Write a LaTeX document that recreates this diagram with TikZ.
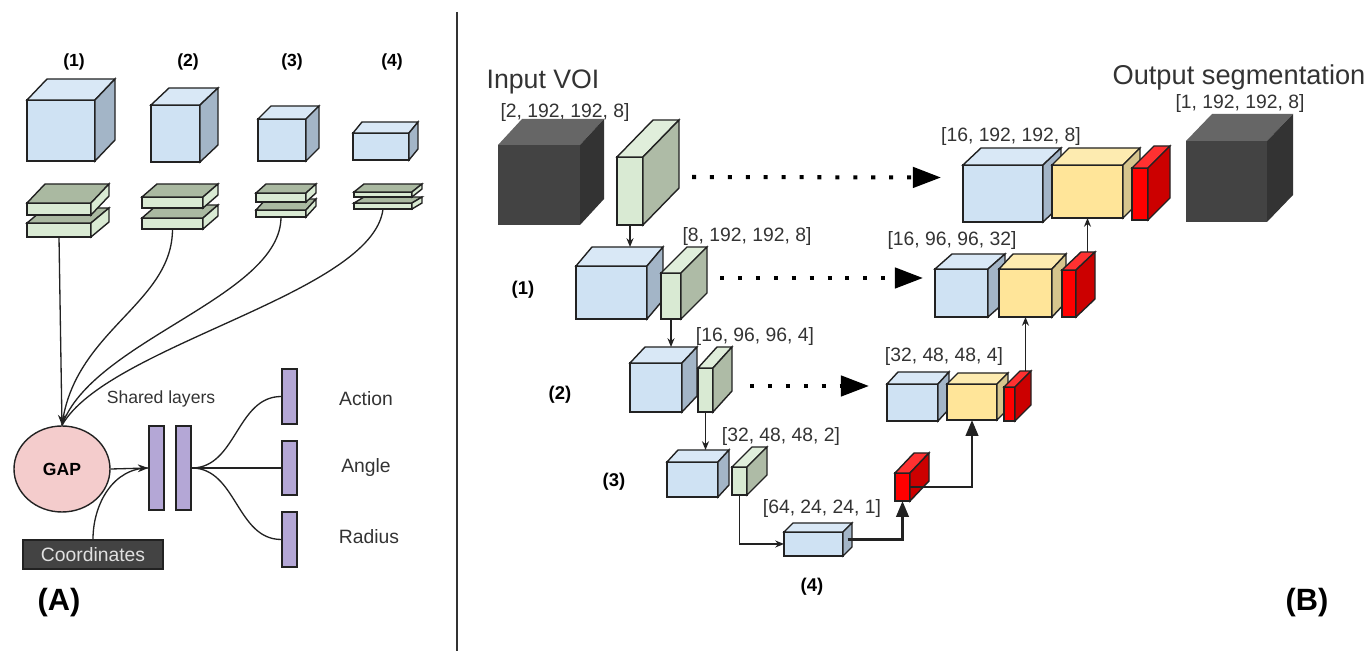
\documentclass[tikz,border=0pt]{standalone}
\usepackage{fontspec}
\setmainfont{Liberation Sans}
\usepackage{tikz}
\usetikzlibrary{arrows.meta,positioning,calc,shapes.geometric}
\definecolor{ink}{HTML}{222222}
\definecolor{txt}{HTML}{333333}
\definecolor{blueF}{HTML}{CFE2F3}
\definecolor{blueT}{HTML}{D9E8F6}
\definecolor{blueS}{HTML}{A3B5C7}
\definecolor{greenF}{HTML}{D9EAD3}
\definecolor{greenT}{HTML}{E0EEDB}
\definecolor{greenS}{HTML}{AEBBA6}
\definecolor{slabF}{HTML}{D9EAD3}
\definecolor{slabT}{HTML}{AAB9A1}
\definecolor{slabS}{HTML}{D9EAD3}
\definecolor{yellowF}{HTML}{FFE599}
\definecolor{yellowT}{HTML}{FDEBB0}
\definecolor{yellowS}{HTML}{D6C58D}
\definecolor{redF}{HTML}{FF0000}
\definecolor{redT}{HTML}{FF3131}
\definecolor{redS}{HTML}{CC0000}
\definecolor{darkF}{HTML}{434343}
\definecolor{darkT}{HTML}{666666}
\definecolor{darkS}{HTML}{333333}
\definecolor{purpF}{HTML}{B4A7D6}
\definecolor{pinkF}{HTML}{F4CCCC}

% name, x1, y1, x2, y2 (front face), depth dx, dy, kind
\newcommand{\cuboid}[8]{%
  \node[face,#8 edge,fill=#8F,minimum width={(#4-#2)*0.02cm},minimum height={(#5-#3)*0.02cm}] (#1) at ({(#2+#4)/2},{(#3+#5)/2}) {};
  \path[face,#8 edge,fill=#8T] (#1.north west) -- ++(#6,-#7) -- ++({#4-#2},0) -- (#1.north east) -- cycle;
  \path[face,#8 edge,fill=#8S] (#1.north east) -- ++(#6,-#7) -- ++(0,{#5-#3}) -- (#1.south east) -- cycle;
  \coordinate (#1-bk) at ($(#1.north west)+(#6,-#7)$);
  \coordinate (#1-sd) at ($(#1.east)+({#6/2},{-#7/2})$);
}

\begin{document}
\begin{tikzpicture}[x=0.02cm,y=-0.02cm,
  face/.style={line width=0.8pt,inner sep=0pt,outer sep=0pt},
  blue edge/.style={draw=ink},green edge/.style={draw=ink},slab edge/.style={draw=ink},
  yellow edge/.style={draw=ink},red edge/.style={draw=ink},dark edge/.style={draw=none},
  bar/.style={draw=ink,line width=0.8pt,fill=purpF,inner sep=0pt,minimum width=15*0.02cm},
  link/.style={draw=ink,line width=0.75pt},
  flow/.style={link,-{Stealth[length=5pt,width=4pt]}},
  upflow/.style={draw=ink,line width=1.6pt,-{Triangle[length=9pt,width=7pt]}},
  skip/.style={line width=2.3pt,dash pattern=on 2.3pt off 7.9pt,-{Triangle[length=16pt,width=11.5pt]}},
  dim/.style={text=txt,font=\fontsize{11}{13}\selectfont},
  tag/.style={font=\fontsize{10}{12}\selectfont\bfseries},
  panel/.style={font=\fontsize{17.5}{20}\selectfont\bfseries}]
\useasboundingbox (0,0) rectangle (1370,651);
\draw[line width=1.6pt,txt] (457,12) -- (457,651);

\node[tag] (t1) at (74,62) {(1)};
\node[tag] (t2) at (188,62) {(2)};
\node[tag] (t3) at (292,62) {(3)};
\node[tag] (t4) at (392,62) {(4)};
\cuboid{c1}{27}{100}{95}{161}{20}{21}{blue}
\cuboid{c2}{151}{105}{200}{162}{18}{17}{blue}
\cuboid{c3}{258}{119}{306}{161}{13}{13}{blue}
\cuboid{c4}{353}{133}{409}{160}{9}{11}{blue}
\cuboid{s1b}{27}{223}{91}{237}{18}{15}{slab}
\cuboid{s1a}{27}{203}{91}{215}{18}{19}{slab}
\cuboid{s2b}{142}{218}{203}{229}{15}{13}{slab}
\cuboid{s2a}{142}{197}{203}{208}{15}{13}{slab}
\cuboid{s3b}{256}{210}{306}{217}{10}{11}{slab}
\cuboid{s3a}{256}{193}{306}{202}{10}{9}{slab}
\cuboid{s4b}{354}{203}{412}{209}{10}{6}{slab}
\cuboid{s4a}{354}{192}{412}{197}{10}{8}{slab}

\node[draw=ink,line width=0.8pt,ellipse,fill=pinkF,minimum width=96*0.02cm,minimum height=86*0.02cm,font=\fontsize{10}{12}\selectfont\bfseries] (gap) at (62,469) {GAP};
\node[draw=ink,line width=0.8pt,fill=darkF,text=black!12,minimum width=140*0.02cm,minimum height=29*0.02cm,font=\fontsize{11}{13}\selectfont] (coord) at (93,554.5) {Coordinates};
\node[bar,minimum height=84*0.02cm] (sh1) at (156.5,468) {};
\node[bar,minimum height=84*0.02cm] (sh2) at (183.5,468) {};
\node[text=txt,font=\fontsize{10}{12}\selectfont] (shl) at (161,399) {Shared layers};
\node[bar,minimum height=55*0.02cm] (o1) at (289.5,396.5) {};
\node[bar,minimum height=54*0.02cm] (o2) at (289.5,468) {};
\node[bar,minimum height=55*0.02cm] (o3) at (289.5,539.5) {};
\node[text=txt,font=\fontsize{11}{13}\selectfont] (l1) at (366,399) {Action};
\node[text=txt,font=\fontsize{11}{13}\selectfont] (l2) at (366,468) {Angle};
\node[text=txt,font=\fontsize{11}{13}\selectfont] (l3) at (369,537) {Radius};

\draw[flow,-{Stealth[length=6pt,width=4.5pt]}] (s1b.south) -- (gap.north);
\draw[link] (s2b.south) .. controls +(0,75) and +(12,-95) .. (gap.north);
\draw[link] (s3b.south) .. controls +(0,80) and +(30,-85) .. (gap.north);
\draw[link] (s4b.south) .. controls +(-10,85) and +(45,-80) .. (gap.north);
\draw[flow,-{Stealth[length=6pt,width=4.5pt]}] (gap.east) -- (sh1.west);
\draw[link] (coord.north) to[out=90,in=180] (sh1.west);
\draw[link] (sh2.east) to[out=0,in=180] (o1.west);
\draw[link] (sh2.east) -- (o2.west);
\draw[link] (sh2.east) to[out=0,in=180] (o3.west);
\node[panel] (pa) at (59,603) {(A)};

\node[font=\fontsize{15.2}{18}\selectfont,text=txt] (vin) at (543,82) {Input VOI};
\node[dim] (dm0) at (565,113) {[2, 192, 192, 8]};
\cuboid{in0}{498}{145}{580}{225}{24}{26}{dark}
\cuboid{g0}{617}{157}{643}{225}{36}{37}{green}
\cuboid{b1}{576}{266}{647}{319}{16}{19}{blue}
\cuboid{g1}{661}{273}{681}{319}{26}{26}{green}
\node[dim] (dm1) at (747,237) {[8, 192, 192, 8]};
\node[tag,font=\fontsize{10.5}{12}\selectfont\bfseries] (u1) at (523,290) {(1)};
\cuboid{b2}{630}{363}{682}{412}{15}{16}{blue}
\cuboid{g2}{698}{368}{713}{412}{19}{21}{green}
\node[dim] (dm2) at (755,337) {[16, 96, 96, 4]};
\node[tag,font=\fontsize{10.5}{12}\selectfont\bfseries] (u2) at (560,395) {(2)};
\cuboid{b3}{667}{462}{718}{497}{11}{12}{blue}
\cuboid{g3}{732}{467}{747}{495}{20}{20}{green}
\node[dim] (dm3) at (781,437) {[32, 48, 48, 2]};
\node[tag,font=\fontsize{10.5}{12}\selectfont\bfseries] (u3) at (614,482) {(3)};
\cuboid{b4}{784}{532}{843}{556}{9}{9}{blue}
\node[dim] (dm4) at (822,509) {[64, 24, 24, 1]};
\node[tag,font=\fontsize{10.5}{12}\selectfont\bfseries] (u4) at (812,587) {(4)};
\cuboid{r4}{895}{473}{910}{501}{19}{20}{red}

\cuboid{d3b}{887}{384}{938}{421}{11}{12}{blue}
\cuboid{y3}{947}{384}{997}{420}{11}{11}{yellow}
\cuboid{r3}{1004}{387}{1015}{421}{16}{16}{red}
\node[dim] (dm5) at (944,357) {[32, 48, 48, 4]};
\cuboid{d2b}{935}{269}{988}{317}{17}{15}{blue}
\cuboid{y2}{999}{269}{1052}{317}{14}{15}{yellow}
\cuboid{r2}{1062}{270}{1076}{317}{19}{18}{red}
\node[dim] (dm6) at (952,241) {[16, 96, 96, 32]};
\cuboid{d1b}{963}{165}{1043}{222}{18}{17}{blue}
\cuboid{y1}{1052}{165}{1123}{218}{17}{17}{yellow}
\cuboid{r1}{1132}{168}{1148}{220}{22}{22}{red}
\node[dim] (dm7) at (1011,137) {[16, 192, 192, 8]};
\cuboid{out0}{1186}{141}{1267}{222}{26}{27}{dark}
\node[font=\fontsize{15.5}{18}\selectfont,text=txt] (vout) at (1239,77) {Output segmentation};
\node[dim] (dm8) at (1240,104) {[1, 192, 192, 8]};

\draw[flow] (g0.south) -- (g0.south |- b1-bk);
\draw[flow] (g1.south) -- (g1.south |- b2-bk);
\draw[flow] (g2.south) -- (g2.south |- b3-bk);
\draw[flow] (g3.south) |- (b4.west);
\draw[upflow] (b4-sd) -| (r4.south);
\draw[upflow] (r4.east) -| (y3.south);
\draw[flow] (y2.south |- r3-bk) -- (y2.south);
\draw[flow] (y1.south |- r2-bk) -- (y1.south);
\draw[skip] ($(g0.east)+(49,-14)$) -- ($(d1b.west)+(-22,-16)$);
\draw[skip] ($(g1.east)+(39,-18)$) -- ($(d2b.west)+(-12,-15)$);
\draw[skip] ($(g2.east)+(37,-4)$) -- ($(d3b.west)+(-18,-16.5)$);
\node[panel] (pb) at (1307,603) {(B)};
\end{tikzpicture}
\end{document}
